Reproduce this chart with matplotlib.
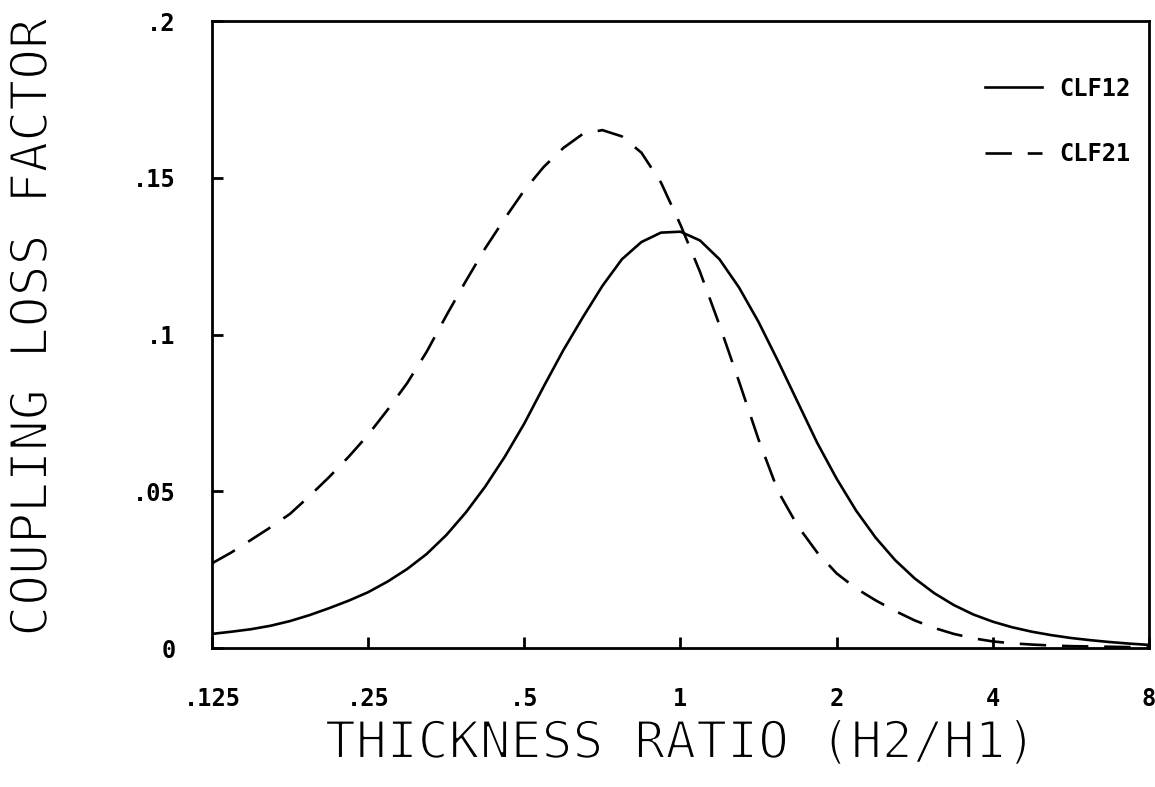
import numpy as np
import matplotlib
matplotlib.use("Agg")
import matplotlib.pyplot as plt
import matplotlib.patheffects as pe
from matplotlib.font_manager import FontProperties

# relacion de espesores (H2/H1), pasos de 1/8 de octava
razon = [0.125, 0.1363, 0.1487, 0.1621, 0.1768, 0.1928, 0.2102, 0.2293,
         0.25, 0.2726, 0.2973, 0.3242, 0.3536, 0.3856, 0.4204, 0.4585,
         0.5, 0.5453, 0.5946, 0.6484, 0.7071, 0.7711, 0.8409, 0.9170,
         1.0, 1.0905, 1.1892, 1.2968, 1.4142, 1.5422, 1.6818, 1.8340,
         2.0, 2.181, 2.378, 2.594, 2.828, 3.084, 3.364, 3.668,
         4.0, 4.362, 4.757, 5.187, 5.657, 6.169, 6.727, 7.336, 8.0]

clf12 = [0.0045, 0.0052, 0.0060, 0.0071, 0.0086, 0.0105, 0.0127, 0.0151,
         0.0178, 0.0212, 0.0252, 0.0300, 0.0360, 0.0432, 0.0515, 0.0610,
         0.0716, 0.0835, 0.0950, 0.1055, 0.1155, 0.1240, 0.1295, 0.1325,
         0.1328, 0.1300, 0.1240, 0.1150, 0.1040, 0.0915, 0.0785, 0.0655,
         0.0540, 0.0438, 0.0352, 0.0280, 0.0222, 0.0175, 0.0137, 0.0107,
         0.0084, 0.0066, 0.0052, 0.0041, 0.0032, 0.0025, 0.0019, 0.0014, 0.0010]

clf21 = [0.0270, 0.0305, 0.0345, 0.0385, 0.0428, 0.0485, 0.0545, 0.0610,
         0.0680, 0.0760, 0.0845, 0.0945, 0.1060, 0.1170, 0.1275, 0.1370,
         0.1460, 0.1535, 0.1595, 0.1640, 0.1652, 0.1632, 0.1580, 0.1485,
         0.1350, 0.1200, 0.1030, 0.0850, 0.0665, 0.0500, 0.0390, 0.0305,
         0.0238, 0.0190, 0.0152, 0.0118, 0.0088, 0.0064, 0.0045, 0.0031,
         0.0021, 0.0015, 0.0011, 0.0008, 0.0006, 0.0005, 0.0004, 0.0003, 0.0002]

xticks = [0.125, 0.25, 0.5, 1, 2, 4, 8]
xlabels = [".125", ".25", ".5", "1", "2", "4", "8"]
yticks = [0, 0.05, 0.1, 0.15, 0.2]
ylabels = ["0", ".05", ".1", ".15", ".2"]

fig = plt.figure(figsize=(11.55, 7.87), dpi=100)
ax = fig.add_axes([0.1835, 0.1766, 0.8113, 0.7967])

ax.plot(razon, clf12, color="black", lw=1.9, label="CLF12")
ax.plot(razon, clf21, color="black", lw=1.9, dashes=(10, 6), label="CLF21")

ax.set_xscale("log", base=2)
ax.set_xlim(0.125, 8)
ax.set_ylim(0, 0.2)
ax.set_xticks(xticks)
ax.set_xticklabels(xlabels)
ax.xaxis.set_minor_locator(matplotlib.ticker.NullLocator())
ax.set_yticks(yticks)
ax.set_yticklabels(ylabels)

for s in ax.spines.values():
    s.set_linewidth(2.0)

tick_font = FontProperties(family="DejaVu Sans Mono", weight="bold", size=17)
ax.tick_params(direction="in", length=8, width=2, pad=28)
ax.tick_params(axis="y", pad=26)
for lbl in ax.get_xticklabels() + ax.get_yticklabels():
    lbl.set_fontproperties(tick_font)

# trazo fino tipo plotter: se "adelgaza" el texto con un borde blanco
fino = [pe.Normal(), pe.Stroke(linewidth=1.5, foreground="white")]
fig.text(680 / 1155, 1 - 744 / 787, "THICKNESS RATIO (H2/H1)", ha="center", va="center",
         family="DejaVu Sans Mono", fontsize=37, path_effects=fino)
fig.text(33 / 1155, 1 - 328 / 787, "COUPLING LOSS FACTOR", ha="center", va="center",
         rotation=90, family="DejaVu Sans Mono", fontsize=37, path_effects=fino)

leg = ax.legend(loc="upper right", bbox_to_anchor=(1.003, 0.945), frameon=False,
                handlelength=2.4, labelspacing=1.75, handletextpad=0.75,
                prop=tick_font)

fig.savefig("out.png", dpi=100)
